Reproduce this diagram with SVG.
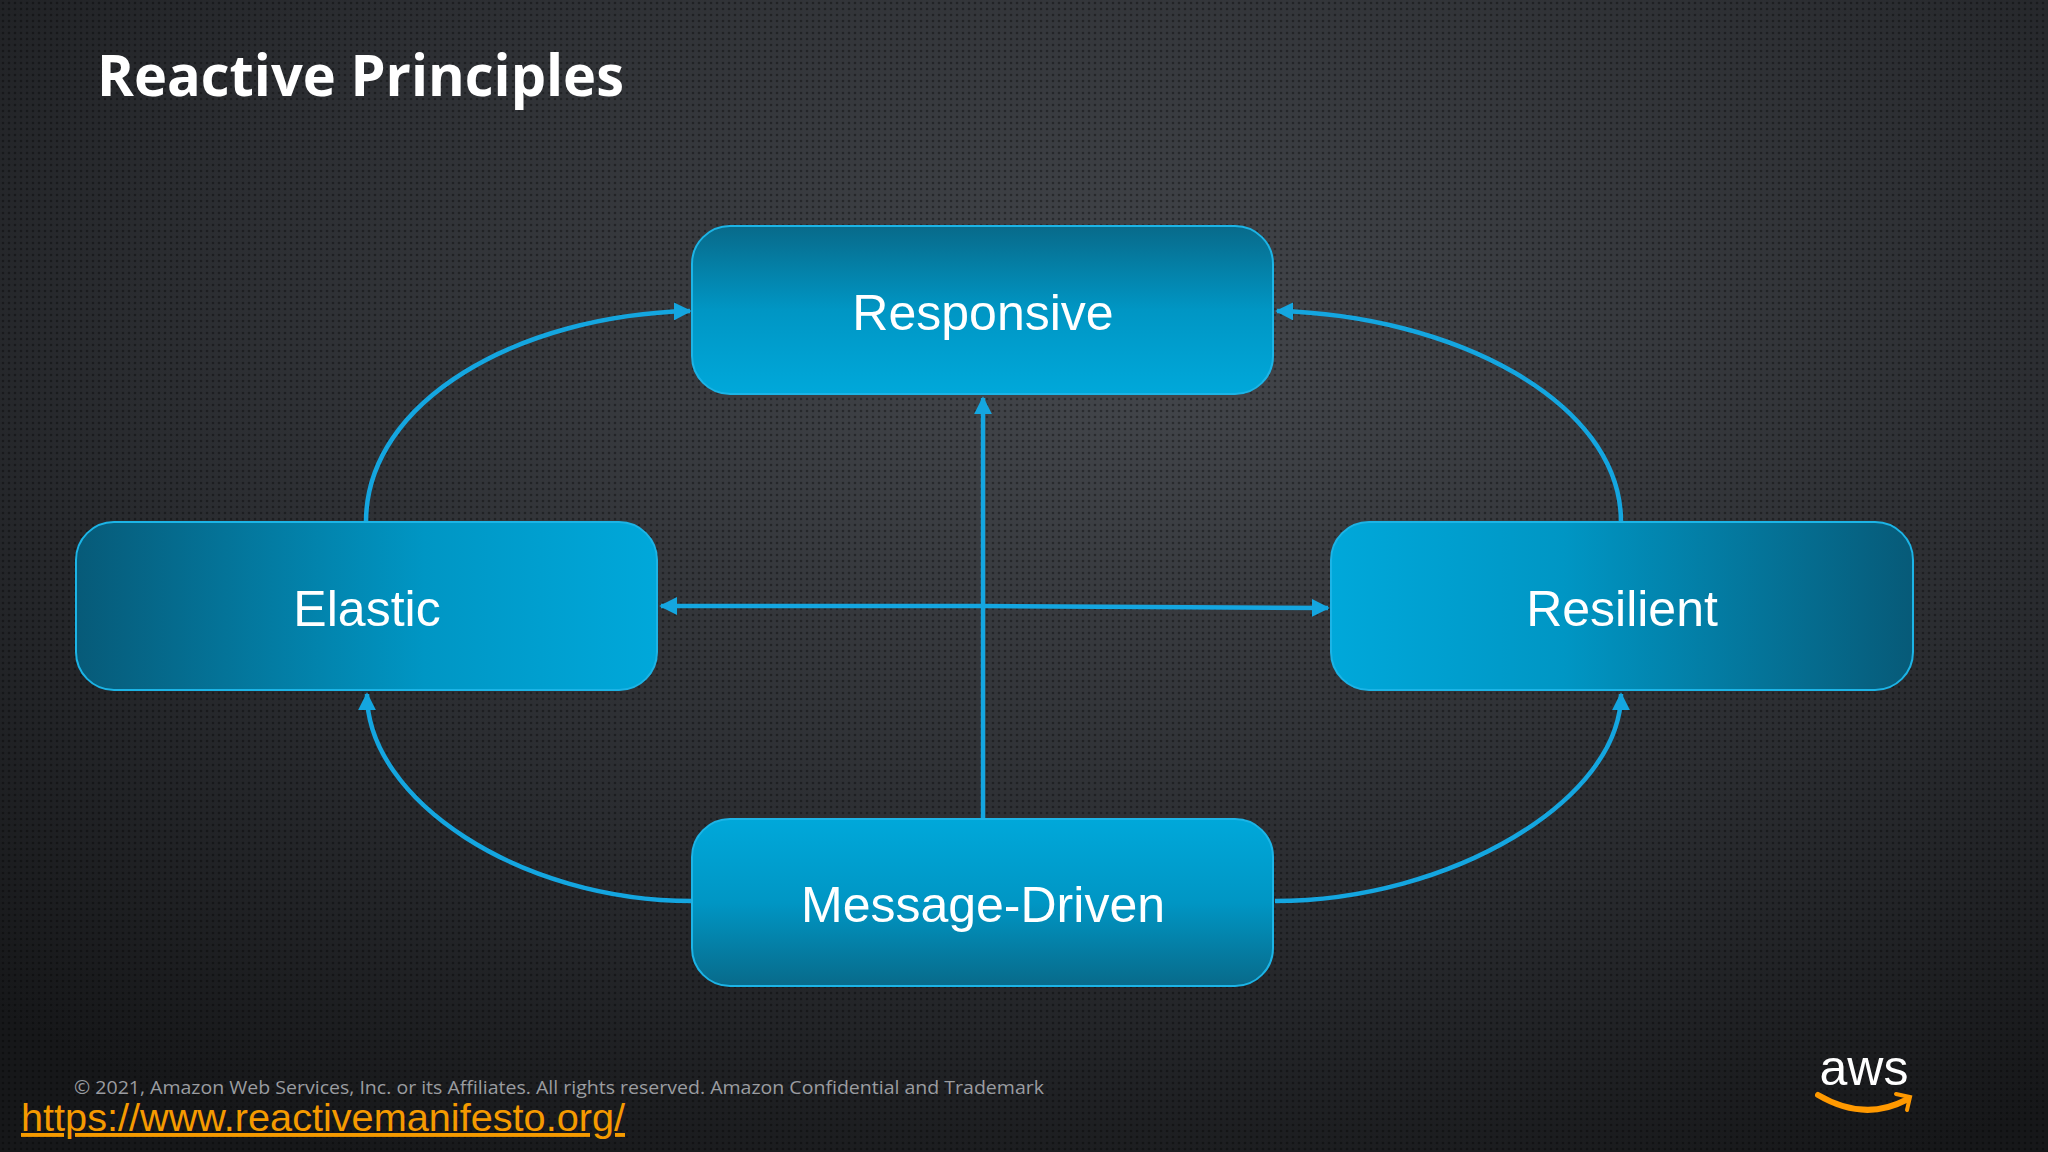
<svg xmlns="http://www.w3.org/2000/svg" width="2048" height="1152" viewBox="0 0 2048 1152">
<defs>
<radialGradient id="bg" cx="0.55" cy="0.3" r="0.8"><stop offset="0" stop-color="#44474c"/><stop offset="0.6" stop-color="#2a2c30"/><stop offset="1" stop-color="#161719"/></radialGradient>
<pattern id="dots" width="6" height="6" patternUnits="userSpaceOnUse"><circle cx="3" cy="3" r="1.3" fill="#000" fill-opacity="0.35"/></pattern>
<linearGradient id="gTop" x1="0" y1="0" x2="0" y2="1"><stop offset="0" stop-color="#086a8a"/><stop offset="0.5" stop-color="#0096c4"/><stop offset="1" stop-color="#00a8da"/></linearGradient>
<linearGradient id="gBot" x1="0" y1="0" x2="0" y2="1"><stop offset="0" stop-color="#00a8da"/><stop offset="0.5" stop-color="#0096c4"/><stop offset="1" stop-color="#086a8a"/></linearGradient>
<linearGradient id="gLeft" x1="0" y1="0" x2="1" y2="0"><stop offset="0" stop-color="#075a78"/><stop offset="0.6" stop-color="#0096c4"/><stop offset="1" stop-color="#00a8da"/></linearGradient>
<linearGradient id="gRight" x1="0" y1="0" x2="1" y2="0"><stop offset="0" stop-color="#00a8da"/><stop offset="0.4" stop-color="#0096c4"/><stop offset="1" stop-color="#075a78"/></linearGradient>
<marker id="ah" viewBox="0 0 10 10" refX="9" refY="5" markerWidth="4" markerHeight="4" orient="auto-start-reverse"><path d="M0,0 L10,5 L0,10 z" fill="#14a6e0"/></marker>
<style>
.box{stroke:#1cb4e6;stroke-width:2}
.lbl{font-family:"Liberation Sans",Arial,sans-serif;font-size:50px;fill:#fff;text-anchor:middle}
.c{fill:none;stroke:#14a6e0;stroke-width:4.5}
</style>
</defs>
<rect width="2048" height="1152" fill="url(#bg)"/>
<rect width="2048" height="1152" fill="url(#dots)"/>
<text x="97" y="96" font-family="'Open Sans','Noto Sans',sans-serif" font-weight="bold" font-size="57" fill="#fff" textLength="527" lengthAdjust="spacingAndGlyphs">Reactive Principles</text>
<g id="connectors">
<path class="c" d="M366,522 C366,400 520,315 690,311" marker-end="url(#ah)"/>
<path class="c" d="M1621,522 C1621,400 1450,315 1277,311" marker-end="url(#ah)"/>
<path class="c" d="M692,901 C520,901 367,800 367,694" marker-end="url(#ah)"/>
<path class="c" d="M1275,901 C1450,901 1621,800 1621,694" marker-end="url(#ah)"/>
<path class="c" d="M983,819 L983,398" marker-end="url(#ah)"/>
<path class="c" d="M661,606 L983,606 L1328,608" marker-start="url(#ah)" marker-end="url(#ah)"/>
</g>
<g id="responsive"><rect class="box" x="692" y="226" width="581" height="168" rx="38" fill="url(#gTop)"/><text class="lbl" x="983" y="330">Responsive</text></g>
<g id="elastic"><rect class="box" x="76" y="522" width="581" height="168" rx="38" fill="url(#gLeft)"/><text class="lbl" x="367" y="626">Elastic</text></g>
<g id="resilient"><rect class="box" x="1331" y="522" width="582" height="168" rx="38" fill="url(#gRight)"/><text class="lbl" x="1622" y="626">Resilient</text></g>
<g id="message-driven"><rect class="box" x="692" y="819" width="581" height="167" rx="38" fill="url(#gBot)"/><text class="lbl" x="983" y="922">Message-Driven</text></g>
<text x="74" y="1094" font-family="'Open Sans','Noto Sans',sans-serif" font-size="19" fill="#9a9ca0" textLength="970" lengthAdjust="spacingAndGlyphs">© 2021, Amazon Web Services, Inc. or its Affiliates. All rights reserved. Amazon Confidential and Trademark</text>
<text x="21" y="1131" font-family="'Liberation Sans',Arial,sans-serif" font-size="39" fill="#f59a00" text-decoration="underline" textLength="604" lengthAdjust="spacingAndGlyphs">https://www.reactivemanifesto.org/</text>
<text x="1864" y="1085" font-family="'Liberation Sans',Arial,sans-serif" font-size="50" fill="#fff" text-anchor="middle">aws</text>
<path d="M1818,1095 Q1864,1122 1906,1100" fill="none" stroke="#f90" stroke-width="6" stroke-linecap="round"/>
<path d="M1896,1094 L1910,1097 L1907,1110" fill="none" stroke="#f90" stroke-width="4" stroke-linecap="round"/>
</svg>
